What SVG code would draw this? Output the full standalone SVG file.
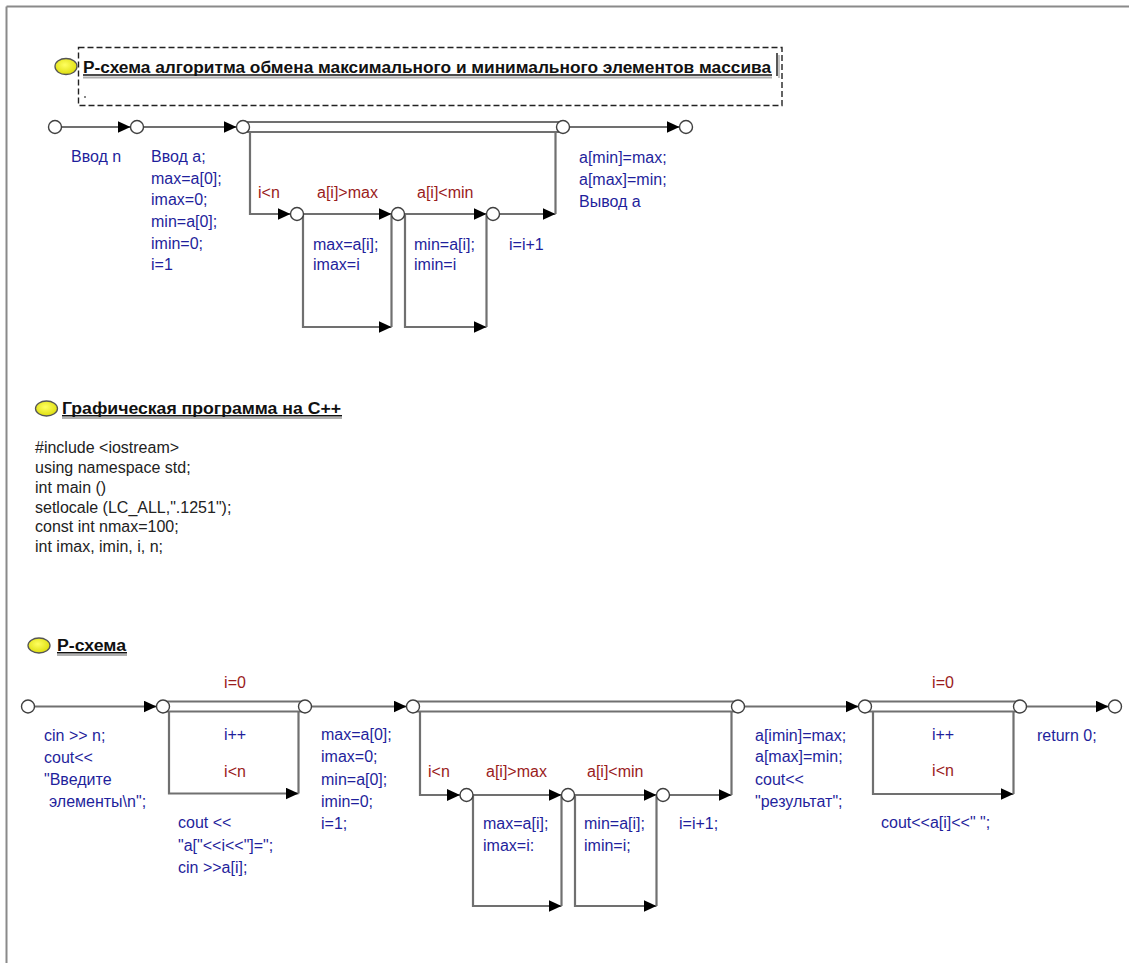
<svg xmlns="http://www.w3.org/2000/svg" width="1129" height="963" viewBox="0 0 1129 963">
<style>
.ln{fill:none;stroke:#707070;stroke-width:2.2}
.ar{marker-end:url(#arr)}
.nd{fill:#fff;stroke:#404040;stroke-width:1.4}
.t{font-family:"Liberation Sans",Arial,sans-serif;font-size:16px}
.b{fill:#1f1f9c}
.r{fill:#9a1c1c}
.c{fill:#222}
.m{text-anchor:middle}
.h{font-family:"Liberation Sans",Arial,sans-serif;font-size:16px;font-weight:bold;fill:#111}
.ul{stroke:#111;stroke-width:1.5}
.sh{stroke:#b0b0b0;stroke-width:2}
.el{fill:url(#yg);stroke:#555;stroke-width:1.3}
</style>
<defs>
<marker id="arr" markerUnits="userSpaceOnUse" markerWidth="15" markerHeight="13" refX="13" refY="6" orient="auto">
<path d="M0,0 L13,6 L0,12 z" fill="#000"/>
</marker>
<radialGradient id="yg" cx="0.45" cy="0.4" r="0.7">
<stop offset="0" stop-color="#ffff60"/>
<stop offset="1" stop-color="#d8d800"/>
</radialGradient>
</defs>
<rect width="1129" height="963" fill="#fff"/>
<g id="frame">
<line x1="6.5" y1="6.5" x2="1129" y2="6.5" stroke="#8a8a8a" stroke-width="2"/>
<line x1="6.5" y1="6.5" x2="6.5" y2="963" stroke="#8a8a8a" stroke-width="2"/>
</g>

<g id="title1">
<rect x="78.5" y="47.5" width="703.5" height="58" fill="none" stroke="#222" stroke-width="1.4" stroke-dasharray="6,3"/>
<ellipse class="el" cx="66" cy="66.5" rx="11" ry="8"/>
<text class="h" x="83" y="72.5" textLength="688" lengthAdjust="spacingAndGlyphs">Р-схема алгоритма обмена максимального и минимального элементов массива</text>
<line class="sh" x1="83" y1="77.5" x2="772" y2="77.5"/>
<line class="ul" x1="83" y1="75" x2="772" y2="75"/>
<line x1="777" y1="53" x2="777" y2="76" stroke="#111" stroke-width="1.4"/>
<line x1="779" y1="55" x2="779" y2="78" stroke="#b0b0b0" stroke-width="1.5"/>
<rect x="84" y="96" width="2" height="2" fill="#888"/>
</g>

<g id="connectors">
<!-- top diagram -->
<path class="ln ar" d="M61.5,127 H130.5"/>
<path class="ln ar" d="M143.5,127 H236.5"/>
<path class="ln" d="M243,122 H563 M243,132 H563"/>
<path class="ln ar" d="M569.5,127 H679.5"/>
<path class="ln ar" d="M250,132 V214 H290.5"/>
<path class="ln ar" d="M303.5,214 H391.5"/>
<path class="ln ar" d="M404.5,214 H486.5"/>
<path class="ln ar" d="M499.5,214 H555.5"/>
<path class="ln" d="M555.5,214 V132"/>
<path class="ln ar" d="M303,214 V327 H391.5"/>
<path class="ln" d="M391.5,327 V214"/>
<path class="ln ar" d="M405,214 V327 H486.5"/>
<path class="ln" d="M486.5,327 V214"/>
<!-- bottom diagram -->
<path class="ln ar" d="M34.5,706.5 H156.5"/>
<path class="ln" d="M163,701.5 H305 M163,711.5 H305"/>
<path class="ln ar" d="M169,711.5 V793.5 H298.5"/>
<path class="ln" d="M298.5,793.5 V711.5"/>
<path class="ln ar" d="M311.5,706.5 H406.5"/>
<path class="ln" d="M413,701.5 H738 M413,711.5 H738"/>
<path class="ln ar" d="M420,711.5 V795 H460"/>
<path class="ln ar" d="M473,795 H561.5"/>
<path class="ln ar" d="M574.5,795 H656.5"/>
<path class="ln ar" d="M669.5,795 H731.5"/>
<path class="ln" d="M731.5,795 V711.5"/>
<path class="ln ar" d="M473,795 V906 H561.5"/>
<path class="ln" d="M561.5,906 V795"/>
<path class="ln ar" d="M575,795 V906 H656.5"/>
<path class="ln" d="M656.5,906 V795"/>
<path class="ln ar" d="M744.5,706.5 H858.5"/>
<path class="ln" d="M865,701.5 H1020 M865,711.5 H1020"/>
<path class="ln ar" d="M873,711.5 V794 H1013.5"/>
<path class="ln" d="M1013.5,794 V711.5"/>
<path class="ln ar" d="M1026.5,706.5 H1108.5"/>
</g>

<!-- top diagram nodes -->
<g id="n1"><circle class="nd" cx="55" cy="127" r="6.5"/></g>
<g id="n2"><circle class="nd" cx="137" cy="127" r="6.5"/>
<text class="t b" x="71" y="162">Ввод n</text></g>
<g id="n3"><circle class="nd" cx="243" cy="127" r="6.5"/>
<text class="t b" x="151" y="162">Ввод а;</text>
<text class="t b" x="151" y="183.5">max=a[0];</text>
<text class="t b" x="151" y="205">imax=0;</text>
<text class="t b" x="151" y="227">min=a[0];</text>
<text class="t b" x="151" y="248.5">imin=0;</text>
<text class="t b" x="151" y="270">i=1</text></g>
<g id="n4"><circle class="nd" cx="563" cy="127" r="6.5"/></g>
<g id="n5"><circle class="nd" cx="686" cy="127" r="6.5"/>
<text class="t b" x="579" y="163">a[min]=max;</text>
<text class="t b" x="579" y="185">a[max]=min;</text>
<text class="t b" x="579" y="207">Вывод а</text></g>
<g id="n6"><circle class="nd" cx="297" cy="214" r="6.5"/>
<text class="t r" x="258" y="198">i&lt;n</text></g>
<g id="n7"><circle class="nd" cx="398" cy="214" r="6.5"/>
<text class="t r" x="317" y="198">a[i]&gt;max</text>
<text class="t b" x="313" y="250">max=a[i];</text>
<text class="t b" x="313" y="270">imax=i</text></g>
<g id="n8"><circle class="nd" cx="493" cy="214" r="6.5"/>
<text class="t r" x="417" y="198">a[i]&lt;min</text>
<text class="t b" x="414" y="250">min=a[i];</text>
<text class="t b" x="414" y="270">imin=i</text></g>
<g id="l1"><text class="t b" x="509" y="250">i=i+1</text></g>

<!-- code section -->
<g id="title2">
<ellipse class="el" cx="46.5" cy="408.5" rx="11" ry="7.5"/>
<text class="h" x="62" y="413.5" textLength="279" lengthAdjust="spacingAndGlyphs">Графическая программа на C++</text>
<line class="sh" x1="62" y1="418" x2="342" y2="418"/>
<line class="ul" x1="62" y1="415.7" x2="342" y2="415.7"/>
</g>
<g id="code">
<text class="t c" x="35" y="453">#include &lt;iostream&gt;</text>
<text class="t c" x="35" y="473">using namespace std;</text>
<text class="t c" x="35" y="492.5">int main ()</text>
<text class="t c" x="35" y="512.5">setlocale (LC_ALL,".1251");</text>
<text class="t c" x="35" y="532">const int nmax=100;</text>
<text class="t c" x="35" y="552">int imax, imin, i, n;</text>
</g>

<g id="title3">
<ellipse class="el" cx="39" cy="645.5" rx="11" ry="7.5"/>
<text class="h" x="57" y="650.5" textLength="69" lengthAdjust="spacingAndGlyphs">Р-схема</text>
<line class="sh" x1="57" y1="655" x2="127" y2="655"/>
<line class="ul" x1="57" y1="652.7" x2="127" y2="652.7"/>
</g>

<!-- bottom diagram nodes -->
<g id="m1"><circle class="nd" cx="28" cy="706.5" r="6.5"/></g>
<g id="m2"><circle class="nd" cx="163" cy="706.5" r="6.5"/>
<text class="t b" x="44" y="741">cin &gt;&gt; n;</text>
<text class="t b" x="44" y="763">cout&lt;&lt;</text>
<text class="t b" x="44" y="785">"Введите</text>
<text class="t b" x="49" y="807">элементы\n";</text></g>
<g id="m3"><circle class="nd" cx="305" cy="706.5" r="6.5"/>
<text class="t r m" x="235" y="688">i=0</text>
<text class="t b m" x="235" y="740">i++</text>
<text class="t r m" x="235" y="776.5">i&lt;n</text>
<text class="t b" x="178" y="828">cout &lt;&lt;</text>
<text class="t b" x="178" y="851">"a["&lt;&lt;i&lt;&lt;"]=";</text>
<text class="t b" x="178" y="872.5">cin &gt;&gt;a[i];</text></g>
<g id="m4"><circle class="nd" cx="413" cy="706.5" r="6.5"/>
<text class="t b" x="321" y="740">max=a[0];</text>
<text class="t b" x="321" y="762">imax=0;</text>
<text class="t b" x="321" y="784.5">min=a[0];</text>
<text class="t b" x="321" y="807">imin=0;</text>
<text class="t b" x="321" y="829">i=1;</text></g>
<g id="m5"><circle class="nd" cx="738" cy="706.5" r="6.5"/></g>
<g id="m6"><circle class="nd" cx="466.5" cy="795" r="6.5"/>
<text class="t r" x="428" y="777">i&lt;n</text></g>
<g id="m7"><circle class="nd" cx="568" cy="795" r="6.5"/>
<text class="t r" x="486" y="777">a[i]&gt;max</text>
<text class="t b" x="483" y="828.5">max=a[i];</text>
<text class="t b" x="483" y="851">imax=i:</text></g>
<g id="m8"><circle class="nd" cx="663" cy="795" r="6.5"/>
<text class="t r" x="587" y="777">a[i]&lt;min</text>
<text class="t b" x="584" y="828.5">min=a[i];</text>
<text class="t b" x="584" y="851">imin=i;</text></g>
<g id="ml"><text class="t b" x="679" y="828.5">i=i+1;</text></g>
<g id="m9"><circle class="nd" cx="865" cy="706.5" r="6.5"/>
<text class="t b" x="755" y="740.5">a[imin]=max;</text>
<text class="t b" x="755" y="762">a[max]=min;</text>
<text class="t b" x="755" y="785">cout&lt;&lt;</text>
<text class="t b" x="755" y="807">"результат";</text></g>
<g id="m10"><circle class="nd" cx="1020" cy="706.5" r="6.5"/>
<text class="t r m" x="943" y="688">i=0</text>
<text class="t b m" x="943" y="740">i++</text>
<text class="t r m" x="943" y="775.5">i&lt;n</text>
<text class="t b" x="881" y="827.5">cout&lt;&lt;a[i]&lt;&lt;" ";</text></g>
<g id="m11"><circle class="nd" cx="1115" cy="706.5" r="6.5"/>
<text class="t b" x="1037" y="740.5">return 0;</text></g>
</svg>
